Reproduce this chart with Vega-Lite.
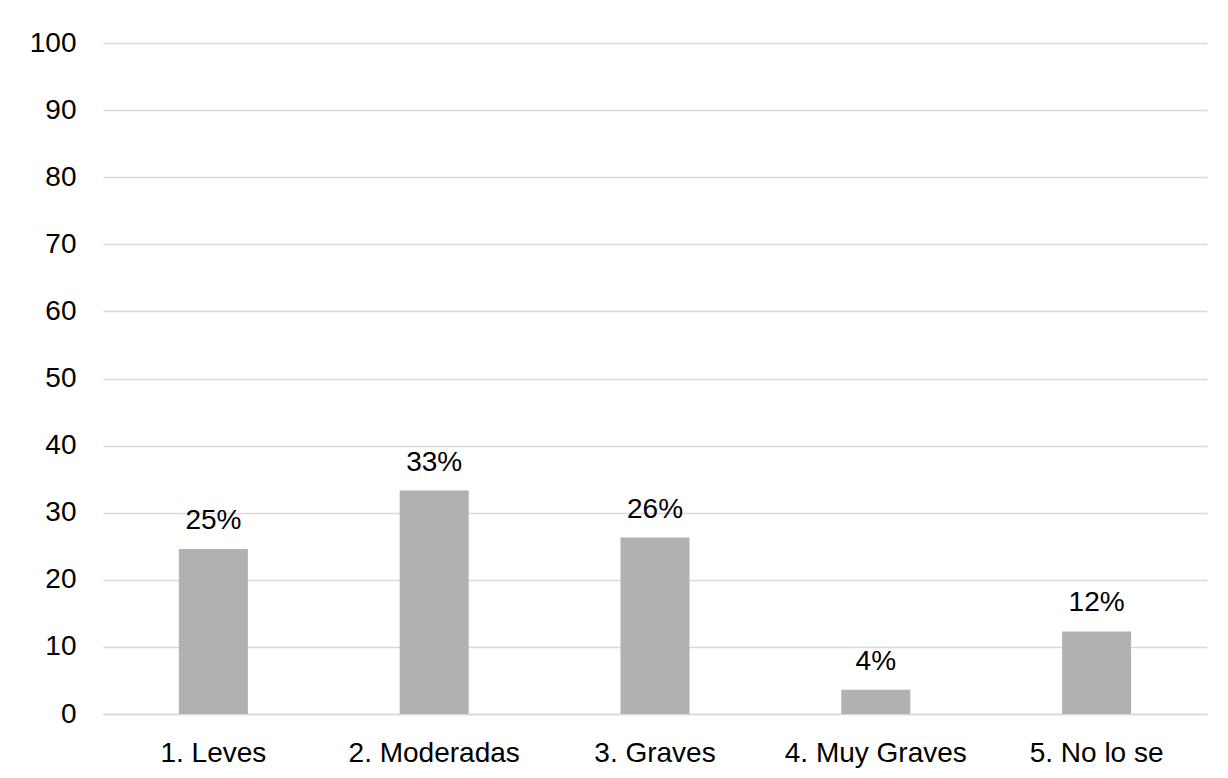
{
  "$schema": "https://vega.github.io/schema/vega-lite/v6.json",
  "autosize": "none",
  "width": 1104,
  "height": 671,
  "padding": {"left": 103, "top": 43, "right": 21, "bottom": 64},
  "background": "white",
  "data": {
    "values": [
      {"categoria": "1. Leves", "valor": 24.6, "etiqueta": "25%"},
      {"categoria": "2. Moderadas", "valor": 33.3, "etiqueta": "33%"},
      {"categoria": "3. Graves", "valor": 26.3, "etiqueta": "26%"},
      {"categoria": "4. Muy Graves", "valor": 3.6, "etiqueta": "4%"},
      {"categoria": "5. No lo se", "valor": 12.3, "etiqueta": "12%"}
    ]
  },
  "encoding": {
    "x": {
      "field": "categoria",
      "type": "nominal",
      "sort": null,
      "scale": {"paddingInner": 0.6875, "paddingOuter": 0.34375},
      "axis": {
        "title": null,
        "labelAngle": 0,
        "labelFont": "Liberation Sans",
        "labelFontSize": 28,
        "labelColor": "#000000",
        "labelPadding": 25,
        "labelLimit": 400,
        "labelOverlap": false,
        "ticks": false,
        "domain": true,
        "domainColor": "#d9d9d9",
        "domainWidth": 1.5
      }
    },
    "y": {
      "field": "valor",
      "type": "quantitative",
      "scale": {"domain": [0, 100], "nice": false},
      "axis": {
        "title": null,
        "values": [0, 10, 20, 30, 40, 50, 60, 70, 80, 90, 100],
        "labelFont": "Liberation Sans",
        "labelFontSize": 28,
        "labelColor": "#000000",
        "labelPadding": 27,
        "ticks": false,
        "domain": false,
        "grid": true,
        "gridColor": "#d9d9d9",
        "gridWidth": 1.5
      }
    }
  },
  "layer": [
    {
      "mark": {"type": "bar", "color": "#b1b1b1"}
    },
    {
      "mark": {
        "type": "text",
        "font": "Liberation Sans",
        "fontSize": 28,
        "color": "#000000",
        "baseline": "alphabetic",
        "dy": -20
      },
      "encoding": {"text": {"field": "etiqueta"}}
    }
  ],
  "config": {"view": {"stroke": null}}
}
